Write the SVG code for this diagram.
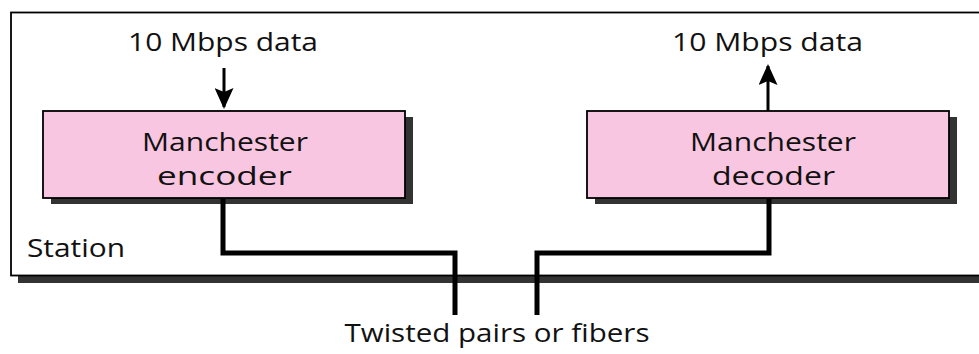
<svg xmlns="http://www.w3.org/2000/svg" width="979" height="354" viewBox="0 0 979 354">
  <style>
    .lbl { font-family: "Open Sans", "Liberation Sans", sans-serif; font-size: 26px; fill: #111; }
    .box { fill: #F9C6E1; stroke: #000; stroke-width: 1.8; }
    .shadow { fill: #333; }
    .wire { fill: none; stroke: #000; stroke-width: 5; stroke-linejoin: miter; stroke-linecap: butt; }
    .arr { fill: none; stroke: #000; stroke-width: 3; }
  </style>
  <defs>
    <marker id="head" markerWidth="21" markerHeight="19" viewBox="0 0 21 19" refX="19" refY="9.5" orient="auto" markerUnits="userSpaceOnUse">
      <path d="M0,0 L21,9.5 L0,19 L4,9.5 Z" fill="#000"/>
    </marker>
  </defs>
  <rect width="979" height="354" fill="#fff"/>

  <g id="station">
    <rect class="shadow" x="18" y="20" width="1000" height="263"/>
    <rect x="11" y="12.5" width="1000" height="263" fill="#fff" stroke="#000" stroke-width="1.8"/>
    <text class="lbl" x="27" y="257" textLength="98" lengthAdjust="spacingAndGlyphs">Station</text>
  </g>

  <g id="encoder">
    <rect class="shadow" x="51" y="117" width="362" height="87"/>
    <rect class="box" x="43" y="111" width="362" height="87"/>
    <text class="lbl" x="142" y="151" textLength="166" lengthAdjust="spacingAndGlyphs">Manchester</text>
    <text class="lbl" x="157" y="185" textLength="135" lengthAdjust="spacingAndGlyphs">encoder</text>
  </g>

  <g id="decoder">
    <rect class="shadow" x="595" y="117" width="362" height="87"/>
    <rect class="box" x="587" y="111" width="362" height="87"/>
    <text class="lbl" x="690" y="151" textLength="166" lengthAdjust="spacingAndGlyphs">Manchester</text>
    <text class="lbl" x="712" y="185" textLength="123" lengthAdjust="spacingAndGlyphs">decoder</text>
  </g>

  <g id="input-label">
    <text class="lbl" x="128" y="51" textLength="190" lengthAdjust="spacingAndGlyphs">10 Mbps data</text>
  </g>
  <g id="output-label">
    <text class="lbl" x="672" y="51" textLength="191" lengthAdjust="spacingAndGlyphs">10 Mbps data</text>
  </g>
  <g id="medium-label">
    <text class="lbl" x="497" y="342" text-anchor="middle" textLength="305" lengthAdjust="spacingAndGlyphs">Twisted pairs or fibers</text>
  </g>

  <g id="connectors">
    <path class="arr" d="M224,68 V107" marker-end="url(#head)"/>
    <path class="arr" d="M768,111 V66" marker-end="url(#head)"/>
    <path class="wire" d="M223,199 V253 H455 V315"/>
    <path class="wire" d="M769,199 V253 H537 V315"/>
  </g>
</svg>
